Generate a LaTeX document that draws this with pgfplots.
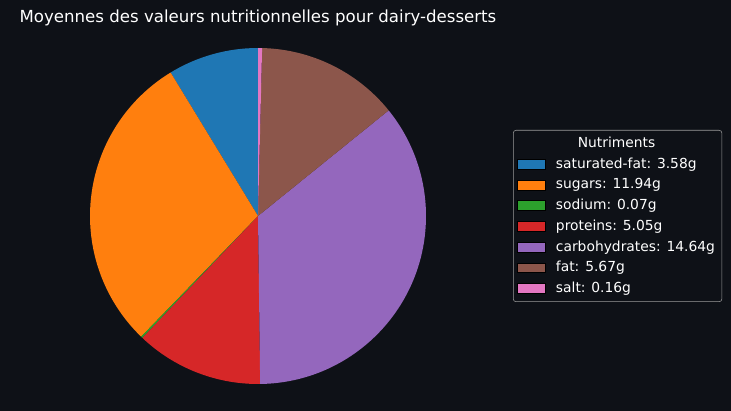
\documentclass[border=0pt]{standalone}
\usepackage{fontspec}
\setmainfont{DejaVu Sans}
\usepackage{pgfplots}
\usepackage{pgfplotstable}
\pgfplotsset{compat=1.18}

\definecolor{bg}{HTML}{0E1117}
\definecolor{edge}{HTML}{9A9A9A}
\definecolor{c0}{HTML}{1F77B4}
\definecolor{c1}{HTML}{FF7F0E}
\definecolor{c2}{HTML}{2CA02C}
\definecolor{c3}{HTML}{D62728}
\definecolor{c4}{HTML}{9467BD}
\definecolor{c5}{HTML}{8C564B}
\definecolor{c6}{HTML}{E377C2}

% mean values (g) for dairy-desserts
\pgfplotstableread{
label          value  color
saturated-fat  3.58   c0
sugars         11.94  c1
sodium         0.07   c2
proteins       5.05   c3
carbohydrates  14.64  c4
fat            5.67   c5
salt           0.16   c6
}\nutri

\pgfplotsset{
  pie legend/.style={legend image code/.code={
    \fill[##1, sharp corners] (0cm,-0.125cm) rectangle (0.69cm,0.125cm);}},
}

\begin{document}
\begin{tikzpicture}
\useasboundingbox (0,0) rectangle (7.31in,4.11in);
\fill[bg] (0,0) rectangle (7.31in,4.11in);
\begin{axis}[
    at={(2.58in,1.95in)}, anchor=center,
    scale only axis,
    width=3.36in, height=3.36in,
    xmin=-1, xmax=1, ymin=-1, ymax=1,
    hide axis,
    clip=false,
    legend style={
        at={(1.259,0.5)}, anchor=west,
        fill=bg, draw=edge, rounded corners=2pt,
        text=white,
        font=\fontsize{10}{12}\selectfont,
        row sep=1.9pt, column sep=5.8pt,
        inner xsep=3pt, inner ysep=3pt,
    },
    legend cell align=left,
]
\pgfplotsextra{
  \gdef\total{0}
  \foreach \i in {0,...,6} {
    \pgfplotstablegetelem{\i}{value}\of\nutri
    \pgfmathsetmacro\tmp{\total+\pgfplotsretval}
    \xdef\total{\tmp}
  }
  \gdef\startang{90}
  \foreach \i in {0,...,6} {
    \pgfplotstablegetelem{\i}{value}\of\nutri
    \pgfmathsetmacro\endang{\startang+360*\pgfplotsretval/\total}
    \pgfplotstablegetelem{\i}{color}\of\nutri
    \edef\col{\pgfplotsretval}
    \fill[\col] (axis cs:0,0) -- (axis cs:{cos(\startang)},{sin(\startang)})
        arc[start angle=\startang, end angle=\endang, radius=1.68in] -- cycle;
    \xdef\startang{\endang}
  }
}
\node[anchor=base, text=white, font=\fontsize{12}{14}\selectfont]
    at (axis description cs:0.5,1.077) {Moyennes des valeurs nutritionnelles pour dairy-desserts};

\addlegendimage{empty legend}
\addlegendentry{\hspace*{15.8pt}Nutriments}
\addlegendimage{pie legend, fill=c0}
\addlegendentry{saturated-fat: 3.58g}
\addlegendimage{pie legend, fill=c1}
\addlegendentry{sugars: 11.94g}
\addlegendimage{pie legend, fill=c2}
\addlegendentry{sodium: 0.07g}
\addlegendimage{pie legend, fill=c3}
\addlegendentry{proteins: 5.05g}
\addlegendimage{pie legend, fill=c4}
\addlegendentry{carbohydrates: 14.64g}
\addlegendimage{pie legend, fill=c5}
\addlegendentry{fat: 5.67g}
\addlegendimage{pie legend, fill=c6}
\addlegendentry{salt: 0.16g}
\end{axis}
\end{tikzpicture}
\end{document}
